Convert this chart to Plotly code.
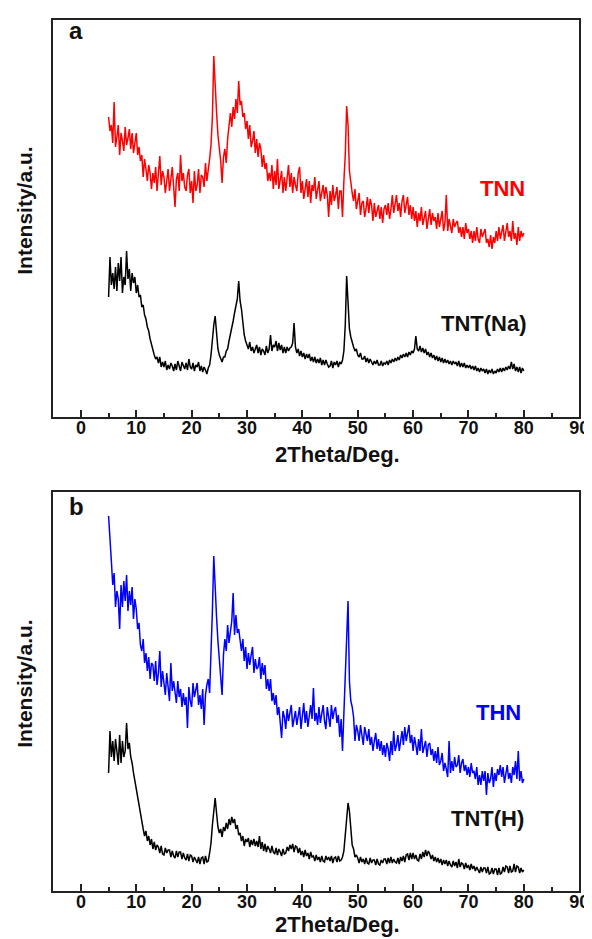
import plotly.graph_objects as go

# ---------------- data (2Theta from 5 to 80 deg, step 0.25) ----------------
two_theta_start = 5.0
two_theta_step = 0.25

tnn = [
 300,286,292,274, 315,270,280,292, 262,284,276,266, 290,272,279,288, 268,284,264,276,
 284,262,270,256, 262,240,258,248, 236,252,244,228, 244,234,250,226, 248,261,232,246,
 240,224,236,248, 226,242,250,230, 210,238,244,226, 262,236,244,230, 226,242,248,224,
 236,214,246,226, 232,248,224,242, 240,230,254,236, 246,258,272,300, 361,328,305,282,
 268,256,234,260, 268,254,278,290, 304,290,310,298, 318,304,336,312, 316,300,304,288,
 296,278,292,270, 276,286,264,278, 260,274,268,250, 262,248,254,236, 244,236,252,228,
 246,232,258,228, 236,246,224,240, 226,238,252,230, 244,224,240,232, 226,244,250,224,
 236,218,230,238, 220,236,214,232, 226,240,218,230, 236,216,224,232, 218,230,222,200,
 226,212,232,216, 222,230,208,226, 226,200,236,262, 311,292,246,232, 224,216,228,208,
 218,224,202,214, 216,200,208,220, 204,218,212,196, 214,200,206,212, 198,210,194,208,
 212,202,214,198, 208,222,204,216, 222,206,214,200, 216,222,204,212, 220,202,212,198,
 210,196,206,190, 204,196,210,192, 198,206,188,200, 208,192,204,196, 200,188,204,190,
 198,206,186,194, 222,186,198,190, 184,198,190,194, 196,184,190,180, 190,178,194,184,
 188,178,186,174, 186,176,190,178, 174,188,180,184, 188,174,178,170, 182,168,180,174,
 186,176,190,178, 184,192,176,188, 194,180,186,176, 196,178,184,172, 190,176,186,180,
 184]

tnt_na = [
 120,160,132,144, 128,150,126,154, 136,160,124,140, 132,166,138,148, 126,144,134,140,
 124,132,120,122, 110,112,102,98, 90,86,78,72, 66,62,58,60, 54,60,50,55,
 50,56,47,52, 48,54,51,46, 53,47,56,50, 46,55,52,48, 54,47,58,50,
 48,54,46,52, 50,55,46,51, 45,50,47,43, 49,52,62,78, 92,101,84,68,
 62,58,55,60, 60,66,68,76, 82,88,96,104, 112,118,136,116, 108,94,82,76,
 72,68,75,66, 70,64,68,72, 64,70,62,68, 66,62,71,64, 68,82,66,72,
 70,76,66,74, 67,72,64,70, 64,70,66,69, 70,74,94,70, 64,68,61,66,
 60,64,58,63, 59,63,56,60, 55,60,54,58, 54,59,52,57, 52,57,53,50,
 51,56,49,55, 52,56,50,55, 53,57,66,92, 141,112,88,80, 74,70,66,68,
 62,60,64,58, 58,61,55,59, 54,58,55,52, 56,53,57,52, 52,56,51,54,
 53,56,52,57, 54,58,55,59, 56,60,57,62, 59,63,60,64, 60,65,62,66,
 64,68,81,68, 66,71,65,69, 64,68,62,65, 60,64,59,62, 57,61,56,60,
 55,59,54,58, 54,57,53,56, 52,56,53,55, 51,56,50,54, 50,54,49,52,
 49,52,48,51, 47,51,46,49, 45,49,46,48, 44,48,43,47, 44,48,43,46,
 44,48,45,49, 45,49,46,50, 47,51,48,55, 48,53,46,50, 45,50,44,49,
 46]

thn = [
 375,345,330,306, 318,284,300,292, 262,306,284,310, 290,316,280,300, 286,304,272,292,
 282,262,268,246, 240,252,228,238, 220,234,212,228, 226,210,230,206, 218,240,204,220,
 208,196,218,204, 190,228,200,210, 196,188,210,194, 202,184,198,186, 194,163,204,190,
 184,208,194,200, 208,186,196,182, 202,166,196,206, 212,198,236,280, 335,300,274,250,
 234,216,196,236, 252,240,266,248, 262,270,298,256, 276,258,262,248, 240,252,230,244,
 222,238,226,236, 244,218,232,222, 224,234,212,228, 216,226,202,212, 200,212,190,198,
 186,196,176,184, 170,153,180,174, 162,182,170,178, 186,164,172,180, 166,178,184,162,
 174,188,168,180, 164,176,186,172, 203,170,178,166, 184,168,176,186, 170,162,184,176,
 164,186,172,180, 184,168,176,154, 172,140,176,200, 240,290,210,190, 184,174,150,166,
 160,150,166,154, 146,164,156,150, 162,146,154,140, 150,158,142,152, 140,150,136,146,
 134,148,142,130, 150,136,160,140, 146,156,140,152, 160,146,164,150, 158,166,148,156,
 140,154,146,136, 152,140,162,138, 144,150,134,146, 148,136,142,130, 140,128,144,126,
 130,138,120,128, 122,114,150,118, 130,120,134,124, 126,136,118,128, 132,120,126,116,
 124,114,128,118, 120,112,124,106, 116,106,120,110, 120,96,118,108, 112,124,104,118,
 110,122,116,126, 114,124,108,120, 126,112,118,108, 124,116,130,112, 140,110,120,108,
 112]

tnt_h = [
 118,160,134,150, 130,152,140,126, 156,128,150,134, 140,168,142,148, 134,128,118,110,
 98,94,82,74, 66,62,55,60, 50,55,46,52, 42,49,41,46, 44,38,45,37,
 36,43,38,41, 41,34,40,35, 33,40,34,39, 39,32,38,33, 31,37,30,36,
 35,29,34,30, 28,34,27,33, 34,27,35,29, 30,38,48,66, 80,93,78,64,
 58,62,54,64, 60,68,62,72, 66,74,68,72, 62,66,56,58, 50,55,45,52,
 49,53,44,51, 46,52,45,50, 44,55,42,49, 40,47,39,45, 42,38,45,39,
 37,43,36,42, 39,35,42,37, 38,44,40,46, 42,47,39,45, 44,38,43,36,
 40,34,41,35, 38,32,39,34, 35,30,36,31, 34,29,35,30, 29,35,31,34,
 30,35,28,33, 34,29,35,30, 31,34,40,56, 72,88,80,66, 46,42,34,36,
 33,28,34,29, 32,27,33,28, 27,33,28,31, 31,26,32,27, 26,31,28,32,
 32,27,33,28, 34,28,32,29, 28,33,27,34, 30,35,29,36, 37,31,38,32,
 38,32,36,31, 30,37,32,39, 34,41,35,40, 37,32,36,30, 34,29,33,28,
 32,26,31,27, 31,25,30,26, 24,30,25,29, 23,32,24,28, 27,22,28,23,
 26,21,27,22, 25,20,24,21, 18,24,19,23, 23,18,24,17, 18,23,17,22,
 22,16,23,17, 18,24,19,25, 24,18,25,19, 20,27,19,25, 24,18,23,19,
 21]

x_ticks = [0, 10, 20, 30, 40, 50, 60, 70, 80, 90]
series_a = [("TNN", tnn, "#ff0000"), ("TNT(Na)", tnt_na, "#000000")]
series_b = [("THN", thn, "#0000ff"), ("TNT(H)", tnt_h, "#000000")]

# ---------------- layout helpers ----------------
W, H = 592, 939
def px(xp):
    return xp / W
def py(yp):
    return 1 - yp / H

fig = go.Figure()

def add_series(series, xa, ya):
    for name, vals, col in series:
        xs = [two_theta_start + two_theta_step * i for i in range(len(vals))]
        fig.add_trace(go.Scatter(x=xs, y=vals, mode="lines", name=name,
                                 line=dict(color=col, width=1.5),
                                 xaxis=xa, yaxis=ya, showlegend=False))

add_series(series_a, "x", "y")
add_series(series_b, "x2", "y2")

tickfont = dict(family="Liberation Sans, Arial", size=18, color="#111111", weight="bold")
xcommon = dict(range=[-5, 90], tickvals=x_ticks, ticks="inside", ticklen=7, tickwidth=1.5,
               tickcolor="#222222", showline=True, linecolor="#222222", linewidth=1.5,
               mirror=True, showgrid=False, zeroline=False, tickfont=tickfont,
               ticklabeloverflow="allow", ticklabelstandoff=-6,
               minor=dict(dtick=5, tick0=0, ticks="inside", ticklen=4, tickwidth=1.5,
                          tickcolor="#222222", showgrid=False))
ycommon = dict(showticklabels=False, ticks="", showline=True, linecolor="#222222",
               linewidth=1.5, mirror=True, showgrid=False, zeroline=False)

xdom = [px(46), px(581)]
fig.update_layout(
    width=W, height=H, margin=dict(l=0, r=0, t=0, b=0),
    paper_bgcolor="white", plot_bgcolor="white",
    xaxis=dict(domain=xdom, anchor="y", **xcommon),
    yaxis=dict(domain=[py(409), py(12)], range=[0, 397], anchor="x", **ycommon),
    xaxis2=dict(domain=xdom, anchor="y2", **xcommon),
    yaxis2=dict(domain=[py(883), py(484)], range=[0, 399], anchor="x2", **ycommon),
)

bold = lambda size, col="#111111": dict(family="Liberation Sans, Arial", size=size, color=col, weight="bold")

annos = [
    # panel letters
    dict(text="a", x=px(69), y=py(22), font=bold(24)),
    dict(text="b", x=px(70), y=py(498), font=bold(24)),
    # series labels
    dict(text="TNN", x=px(528), y=py(180), xanchor="right", font=bold(22, "#ff0000")),
    dict(text="TNT(Na)", x=px(530), y=py(315), xanchor="right", font=bold(22)),
    dict(text="THN", x=px(524), y=py(704), xanchor="right", font=bold(22, "#0000ff")),
    dict(text="TNT(H)", x=px(527), y=py(810), xanchor="right", font=bold(22)),
    # axis titles
    dict(text="2Theta/Deg.", x=px(335), y=py(446), font=bold(22)),
    dict(text="2Theta/Deg.", x=px(335), y=py(916), font=bold(22)),
    dict(text="Intensity/a.u.", x=px(16), y=py(203), textangle=-90, font=bold(21)),
    dict(text="Intensity/a.u.", x=px(16), y=py(676), textangle=-90, font=bold(21)),
]
for a in annos:
    a.setdefault("xanchor", "center")
    a.update(xref="paper", yref="paper", yanchor="middle", showarrow=False)
    fig.add_annotation(**a)

fig.write_html("out.html")
